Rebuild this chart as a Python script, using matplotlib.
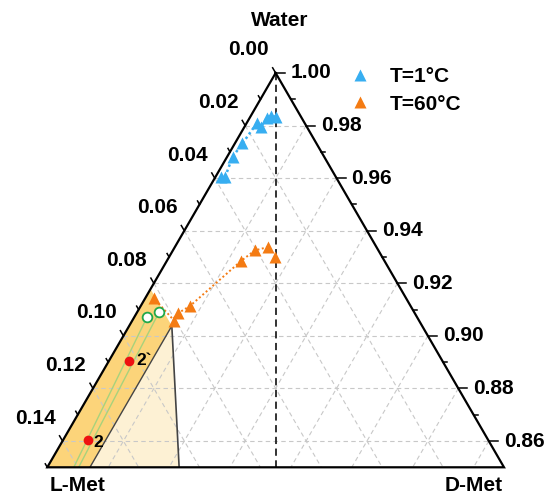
import numpy as np
import matplotlib
matplotlib.use('Agg')
import matplotlib.pyplot as plt
from matplotlib.patches import Polygon

plt.rcParams['font.family'] = ['Liberation Sans', 'DejaVu Sans']
plt.rcParams['font.weight'] = 'bold'

# ---- data: mass fractions (L-Met, Water); D-Met = 1 - L - W ----
W_MIN = 0.85
SPAN = 0.15

blue_L = [0.0082, 0.0098, 0.0116, 0.0155, 0.0152, 0.0243, 0.0301, 0.0376, 0.0365]
blue_W = [0.9834, 0.9836, 0.9828, 0.9811, 0.9793, 0.9732, 0.9681, 0.9606, 0.9603]
blue_line_order = [0, 1, 2, 4, 3, 5, 6, 8, 7]

orange_L = [0.0356, 0.0406, 0.0350, 0.0471, 0.0724, 0.0776, 0.0804, 0.0829]
orange_W = [0.9338, 0.9325, 0.9301, 0.9285, 0.9114, 0.9087, 0.9057, 0.9144]
orange_line_order = [0, 1, 3, 4, 5, 6, 7]

green_L = [0.0887, 0.0836]
green_W = [0.9071, 0.9092]
green_line_bottom_L = [0.1413, 0.1397]

red_L = [0.1030, 0.1314]
red_W = [0.8906, 0.8604]
red_labels = ['2`', '2']

band_L = [0.0822, 0.0822, 0.1360, 0.1500]
band_W = [0.9178, 0.9038, 0.8500, 0.8500]
cream_L = [0.0822, 0.1360, 0.1067]
cream_W = [0.9038, 0.8500, 0.8500]

left_tick_labels = ['0.00', '0.02', '0.04', '0.06', '0.08', '0.10', '0.12', '0.14']
right_tick_labels = ['1.00', '0.98', '0.96', '0.94', '0.92', '0.90', '0.88', '0.86']
grid_vals = [0.02, 0.04, 0.06, 0.08, 0.10, 0.12, 0.14]

BLUE = '#37AEF1'
ORANGE = '#F47B13'


def tern(L, W):
    L = np.asarray(L, float)
    W = np.asarray(W, float)
    D = 1 - L - W
    y = (W - W_MIN) / SPAN
    x = D / SPAN + y / 2
    return x, y


fig = plt.figure(figsize=(5.46, 4.96), dpi=100)
AX_W_PX, AX_H_PX = 456.7, 394.3
ax = fig.add_axes([47.3 / 546, (496 - 467.3) / 496, AX_W_PX / 546, AX_H_PX / 496])
ax.set_xlim(0, 1)
ax.set_ylim(0, 1)
ax.axis('off')


def px(dx, dy):
    return dx / AX_W_PX, dy / AX_H_PX


# shaded regions
bx, by = tern(band_L, band_W)
ax.add_patch(Polygon(np.c_[bx, by], closed=True, facecolor='#FCD47A', edgecolor='none', zorder=1))
cx, cy = tern(cream_L, cream_W)
ax.add_patch(Polygon(np.c_[cx, cy], closed=True, facecolor='#FDF1D4', edgecolor='none', zorder=1))
# boundary lines
ax.plot(bx[1:3], by[1:3], color='#444444', lw=1.0, zorder=3)
ax.plot([cx[0], cx[2]], [cy[0], cy[2]], color='#444444', lw=1.2, zorder=3)

# grid
gkw = dict(color='#C8C8C8', lw=0.8, ls=(0, (4, 3)), zorder=2)
for v in grid_vals:
    w = 1 - v
    x, y = tern([1 - w, 0], [w, w])
    ax.plot(x, y, **gkw)
    x, y = tern([v, v], [1 - v, W_MIN])
    ax.plot(x, y, **gkw)
    x, y = tern([0, SPAN - v], [1 - v, W_MIN])
    ax.plot(x, y, **gkw)

# racemic line L = D
x, y = tern([0, SPAN / 2], [1, W_MIN])
ax.plot(x, y, color='#222222', lw=1.3, ls=(0, (4, 2.5)), zorder=3)

# green lines
for gl, gw, lb in zip(green_L, green_W, green_line_bottom_L):
    x, y = tern([gl, lb], [gw, W_MIN])
    ax.plot(x, y, color='#A8D27C', lw=1.0, zorder=3)

# trend lines
x, y = tern(np.array(blue_L)[blue_line_order], np.array(blue_W)[blue_line_order])
ax.plot(x, y, color=BLUE, lw=1.8, ls=(0, (1, 1.2)), zorder=4)
x, y = tern(np.array(orange_L)[orange_line_order], np.array(orange_W)[orange_line_order])
ax.plot(x, y, color=ORANGE, lw=1.4, ls=(0, (1, 1.3)), zorder=4)

# markers
x, y = tern(blue_L, blue_W)
hb, = ax.plot(x, y, ls='none', marker='^', ms=8.5, color=BLUE, mec='none', zorder=5,
              clip_on=False, label='T=1°C')
x, y = tern(orange_L, orange_W)
ho, = ax.plot(x, y, ls='none', marker='^', ms=8.5, color=ORANGE, mec='none', zorder=5,
              clip_on=False, label='T=60°C')
x, y = tern(green_L, green_W)
ax.plot(x, y, ls='none', marker='o', ms=7, mfc='white', mec='#22A84A', mew=1.3, zorder=5)
x, y = tern(red_L, red_W)
ax.plot(x, y, ls='none', marker='o', ms=7, color='#EE1111', mec='none', zorder=5)
for xi, yi, t, off in zip(x, y, red_labels, [(8, 0), (5, -3)]):
    ax.annotate(t, (xi, yi), xytext=off, textcoords='offset pixels', ha='left',
                va='center', fontsize=12.5, fontweight='bold', color='black', zorder=6)

# triangle outline
x, y = tern([0, 0.15, 0, 0], [1, W_MIN, W_MIN, 1])
ax.plot(x, y, color='black', lw=1.6, zorder=6, clip_on=False, solid_joinstyle='miter')

# left axis (L-Met) ticks and labels
for i in range(16):
    l = i * 0.01
    x0, y0 = tern(l, 1 - l)
    ln = 6 if i % 2 == 0 else 4
    dx, dy = px(-0.5 * ln, 0.866 * ln)
    ax.plot([x0, x0 + dx], [y0, y0 + dy], color='black', lw=1.1, zorder=6, clip_on=False)
for i, lab in enumerate(left_tick_labels):
    l = i * 0.02
    x0, y0 = tern(l, 1 - l)
    ax.annotate(lab, (x0, y0), xytext=(-27, 23), textcoords='offset pixels', ha='center',
                va='center', fontsize=15, fontweight='bold')

# right axis (Water) ticks and labels
for i in range(15):
    w = 1 - i * 0.01
    x0, y0 = tern(0, w)
    ln = 9 if i % 2 == 0 else 4
    dx, dy = px(ln, 0)
    ax.plot([x0, x0 + dx], [y0, y0 + dy], color='black', lw=1.1, zorder=6, clip_on=False)
for i, lab in enumerate(right_tick_labels):
    w = 1 - i * 0.02
    x0, y0 = tern(0, w)
    ax.annotate(lab, (x0, y0), xytext=(15, 0), textcoords='offset pixels', ha='left',
                va='center', fontsize=15, fontweight='bold')

# vertex labels
x0, y0 = tern(0, 1)
ax.annotate('Water', (x0, y0), xytext=(4, 52), textcoords='offset pixels', ha='center',
            va='center', fontsize=15, fontweight='bold')
x0, y0 = tern(0.15, W_MIN)
ax.annotate('L-Met', (x0, y0), xytext=(2, -18), textcoords='offset pixels', ha='left',
            va='center', fontsize=15, fontweight='bold')
x0, y0 = tern(0, W_MIN)
ax.annotate('D-Met', (x0, y0), xytext=(-1, -18), textcoords='offset pixels', ha='right',
            va='center', fontsize=15, fontweight='bold')

leg = ax.legend(handles=[hb, ho], loc='upper left', bbox_to_anchor=(350 / 546, 1 - 67 / 496),
                bbox_transform=fig.transFigure, frameon=False, handlelength=1.0,
                handletextpad=0.9, labelspacing=0.42, borderpad=0, borderaxespad=0,
                prop={'weight': 'bold', 'size': 15})

fig.savefig('out.png', dpi=100)
